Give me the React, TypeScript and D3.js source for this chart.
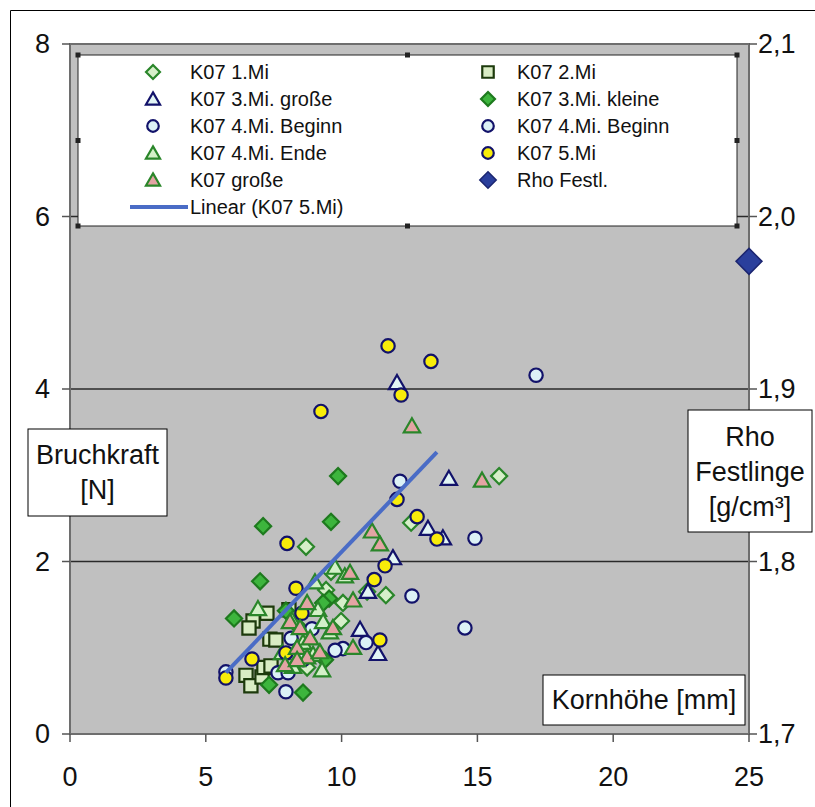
import React from 'react';
import * as d3 from 'd3';

// ---------- data ----------
const xTicks = [0, 5, 10, 15, 20, 25];
const yTicks = [0, 2, 4, 6, 8];
const yGrid = [2, 4, 6];
const yRightTicks = [1.7, 1.8, 1.9, 2.0, 2.1];
const yRightLabels = ['1,7', '1,8', '1,9', '2,0', '2,1'];

type P = [number, number];

const k07Mi1: P[] = [
  [15.80, 2.99], [12.56, 2.45], [8.69, 2.17], [11.63, 1.61], [9.43, 1.67],
  [10.05, 1.52], [9.98, 1.31], [9.61, 1.88], [10.94, 1.65], [8.73, 0.77],
];
const k07Mi2: P[] = [
  [7.25, 1.40], [6.74, 1.31], [6.59, 1.23], [7.36, 1.10], [7.58, 1.09],
  [6.48, 0.68], [6.66, 0.56], [7.07, 0.66], [7.14, 0.77], [7.40, 0.79], [8.06, 1.44],
];
const k07Mi3Gross: P[] = [
  [12.04, 4.07], [13.95, 2.96], [13.18, 2.38], [13.73, 2.27],
  [11.89, 2.04], [10.97, 1.65], [10.68, 1.21], [11.34, 0.93],
];
const k07Mi3Klein: P[] = [
  [9.87, 2.99], [7.11, 2.41], [9.61, 2.46], [6.04, 1.34], [7.00, 1.77], [9.54, 1.57],
  [9.32, 1.52], [7.95, 1.43], [8.36, 1.26], [9.39, 0.86], [7.33, 0.57], [8.58, 0.48],
];
const k07Mi4BeginnA: P[] = [
  [17.16, 4.16], [12.15, 2.93], [14.91, 2.27], [12.59, 1.60], [14.54, 1.23],
  [10.90, 1.06], [10.05, 0.99],
];
const k07Mi4BeginnB: P[] = [
  [8.14, 1.11], [9.76, 0.97], [7.66, 0.71], [8.03, 0.71], [7.95, 0.49],
  [8.91, 1.22], [8.58, 0.86], [5.74, 0.72],
];
const k07Mi4Ende: P[] = [
  [9.76, 1.93], [10.12, 1.83], [9.02, 1.76], [6.92, 1.45], [9.13, 1.44], [9.32, 1.30],
  [9.57, 1.18], [8.58, 1.06], [7.81, 0.94], [8.95, 0.92], [8.21, 0.78], [9.28, 0.74], [8.17, 1.32],
];
const k07Mi5: P[] = [
  [5.74, 0.65], [6.70, 0.87], [7.95, 0.94], [8.32, 1.69], [8.54, 1.40], [7.99, 2.21],
  [9.24, 3.74], [11.41, 1.09], [11.20, 1.79], [11.60, 1.95], [12.04, 2.72], [12.78, 2.52],
  [13.51, 2.26], [12.19, 3.93], [11.71, 4.50], [13.29, 4.32],
];
const k07Gross: P[] = [
  [12.59, 3.57], [15.17, 2.94], [11.12, 2.35], [11.41, 2.20], [10.31, 1.87], [10.42, 1.55],
  [8.73, 1.52], [8.10, 1.30], [8.47, 1.23], [8.84, 1.11], [8.36, 1.00], [8.73, 0.89],
  [7.92, 0.80], [9.20, 0.95], [9.68, 1.23], [10.42, 1.00], [8.36, 0.86],
];
const rhoFestl: P[] = [[25, 1.974]];

// Excel linear trendline of K07 5.Mi (coefficients as displayed)
const trendSlope = 0.329;
const trendIntercept = -1.178;

// ---------- layout ----------
const W = 815;
const H = 807;
const PL = 70, PR = 749, PT = 44, PB = 734;
const FONT = '"Liberation Sans", Arial, sans-serif';

const x = d3.scaleLinear().domain([0, 25]).range([PL, PR]);
const y = d3.scaleLinear().domain([0, 8]).range([PB, PT]);
const yR = d3.scaleLinear().domain([1.7, 2.1]).range([PB, PT]);

type Style = { shape: d3.SymbolType; size: number; fill: string; stroke: string; sw: number };

const NAVY = '#12126a';
const GREEN = '#2a862a';

const sDiamondPale: Style = { shape: d3.symbolDiamond2, size: 165, fill: '#d6efc9', stroke: GREEN, sw: 2.2 };
const sSquare: Style = { shape: d3.symbolSquare, size: 175, fill: '#d9ecc4', stroke: '#1d3a0c', sw: 2.2 };
const sTriCyan: Style = { shape: d3.symbolTriangle, size: 115, fill: '#e2f5f5', stroke: NAVY, sw: 2.2 };
const sDiamondGreen: Style = { shape: d3.symbolDiamond2, size: 165, fill: '#3db53d', stroke: '#1e7a1e', sw: 2.2 };
const sCircleCyan: Style = { shape: d3.symbolCircle, size: 140, fill: '#dcf1f6', stroke: NAVY, sw: 2.2 };
const sTriGreen: Style = { shape: d3.symbolTriangle, size: 115, fill: '#d3f0c8', stroke: GREEN, sw: 2.2 };
const sCircleYellow: Style = { shape: d3.symbolCircle, size: 140, fill: '#f8ec0a', stroke: NAVY, sw: 2.2 };
const sTriPink: Style = { shape: d3.symbolTriangle, size: 115, fill: '#e3a4a4', stroke: GREEN, sw: 2.2 };
const sRho: Style = { shape: d3.symbolDiamond2, size: 430, fill: '#2a3f9c', stroke: '#1b2570', sw: 1.5 };

const series: { name: string; data: P[]; style: Style; right?: boolean }[] = [
  { name: 'K07 1.Mi', data: k07Mi1, style: sDiamondPale },
  { name: 'K07 2.Mi', data: k07Mi2, style: sSquare },
  { name: 'K07 3.Mi. große', data: k07Mi3Gross, style: sTriCyan },
  { name: 'K07 3.Mi. kleine', data: k07Mi3Klein, style: sDiamondGreen },
  { name: 'K07 4.Mi. Beginn', data: k07Mi4BeginnA, style: sCircleCyan },
  { name: 'K07 4.Mi. Beginn', data: k07Mi4BeginnB, style: sCircleCyan },
  { name: 'K07 4.Mi. Ende', data: k07Mi4Ende, style: sTriGreen },
  { name: 'K07 5.Mi', data: k07Mi5, style: sCircleYellow },
  { name: 'K07 große', data: k07Gross, style: sTriPink },
  { name: 'Rho Festl.', data: rhoFestl, style: sRho, right: true },
];

function Marker({ cx, cy, st, scale = 1 }: { cx: number; cy: number; st: Style; scale?: number }) {
  const dy = st.shape === d3.symbolTriangle ? 1.5 : 0;
  const p = d3.symbol().type(st.shape).size(st.size * scale)() as string;
  return (
    <path d={p} transform={`translate(${cx},${cy + dy})`} fill={st.fill} stroke={st.stroke} strokeWidth={st.sw} />
  );
}

function TitleBox({ x0, y0, w, h, lines, cy0, dy }: { x0: number; y0: number; w: number; h: number; lines: string[]; cy0: number; dy: number }) {
  return (
    <g>
      <rect x={x0} y={y0} width={w} height={h} fill="#fff" stroke="#000" strokeWidth={1} />
      {lines.map((t, i) => (
        <text key={i} x={x0 + w / 2} y={cy0 + i * dy} textAnchor="middle" dominantBaseline="central"
          fontFamily={FONT} fontSize={27} fill="#111">{t}</text>
      ))}
    </g>
  );
}

export default function App() {
  const x5 = d3.extent(k07Mi5, (d) => d[0]) as [number, number];
  const trendPts: P[] = [x5[0], x5[1]].map((v) => [v, trendSlope * v + trendIntercept]);
  const line = d3.line<P>().x((d) => x(d[0])).y((d) => y(d[1]));

  // legend
  const LX = 78, LY = 55, LW = 659, LH = 171;
  const rowY = (i: number) => 72 + i * 27;
  const leftCol = [0, 2, 4, 6, 8];
  const rightCol = [1, 3, 5, 7, 9];
  const handles: P[] = [
    [LX, LY], [LX + LW / 2, LY], [LX + LW, LY],
    [LX, LY + LH / 2], [LX + LW, LY + LH / 2],
    [LX, LY + LH], [LX + LW / 2, LY + LH], [LX + LW, LY + LH],
  ];

  return (
    <svg width={W} height={H} style={{ position: 'absolute', left: 0, top: 0, background: '#fff' }}>
      <rect x={0} y={0} width={W} height={H} fill="#fff" />
      {/* chart area frame */}
      <line x1={10.5} y1={10.5} x2={W} y2={10.5} stroke="#000" strokeWidth={1} />
      <line x1={10.5} y1={10.5} x2={10.5} y2={H} stroke="#000" strokeWidth={1} />

      {/* plot area */}
      <rect x={PL} y={PT} width={PR - PL} height={PB - PT} fill="#c0c0c0" />
      {yGrid.map((v) => (
        <line key={v} x1={PL} x2={PR} y1={y(v)} y2={y(v)} stroke="#2a2a2a" strokeWidth={1.5} />
      ))}
      <rect x={PL} y={PT} width={PR - PL} height={PB - PT} fill="none" stroke="#6e6e6e" strokeWidth={2} />

      {/* ticks */}
      {yTicks.map((v) => (
        <g key={'yl' + v}>
          <line x1={PL - 8} x2={PL} y1={y(v)} y2={y(v)} stroke="#555" strokeWidth={1.5} />
          <text x={50} y={y(v)} textAnchor="end" dominantBaseline="central" fontFamily={FONT} fontSize={27} fill="#111">{v}</text>
        </g>
      ))}
      {yRightTicks.map((v, i) => (
        <g key={'yr' + v}>
          <line x1={PR} x2={PR + 8} y1={yR(v)} y2={yR(v)} stroke="#555" strokeWidth={1.5} />
          <text x={758} y={yR(v)} textAnchor="start" dominantBaseline="central" fontFamily={FONT} fontSize={27} fill="#111">{yRightLabels[i]}</text>
        </g>
      ))}
      {xTicks.map((v) => (
        <g key={'x' + v}>
          <line x1={x(v)} x2={x(v)} y1={PB} y2={PB + 8} stroke="#555" strokeWidth={1.5} />
          <text x={x(v)} y={777} textAnchor="middle" dominantBaseline="central" fontFamily={FONT} fontSize={27} fill="#111">{v}</text>
        </g>
      ))}

      {/* markers */}
      {series.map((s, si) => (
        <g key={si}>
          {s.data.map((d, i) => (
            <Marker key={i} cx={x(d[0])} cy={s.right ? yR(d[1]) : y(d[1])} st={s.style} />
          ))}
        </g>
      ))}

      {/* trend line */}
      <path d={line(trendPts) as string} fill="none" stroke="#4a6cc6" strokeWidth={4} />

      {/* legend */}
      <rect x={LX} y={LY} width={LW} height={LH} fill="#fff" stroke="#222" strokeWidth={1} />
      {handles.map((h, i) => (
        <rect key={i} x={h[0] - 2.5} y={h[1] - 2.5} width={5} height={5} fill="#222" />
      ))}
      {leftCol.map((si, r) => (
        <g key={'ll' + si}>
          <Marker cx={153} cy={rowY(r)} st={series[si].style} scale={0.75} />
          <text x={190} y={rowY(r)} dominantBaseline="central" fontFamily={FONT} fontSize={20} fill="#111">{series[si].name}</text>
        </g>
      ))}
      {rightCol.map((si, r) => (
        <g key={'lr' + si}>
          <Marker cx={488} cy={rowY(r)} st={series[si].style} scale={si === 9 ? 0.4 : 0.75} />
          <text x={517} y={rowY(r)} dominantBaseline="central" fontFamily={FONT} fontSize={20} fill="#111">{series[si].name}</text>
        </g>
      ))}
      <line x1={130} x2={188} y1={rowY(5)} y2={rowY(5)} stroke="#4a6cc6" strokeWidth={4} />
      <text x={190} y={rowY(5)} dominantBaseline="central" fontFamily={FONT} fontSize={20} fill="#111">Linear (K07 5.Mi)</text>

      {/* axis title boxes */}
      <TitleBox x0={28} y0={429} w={139} h={87} lines={['Bruchkraft', '[N]']} cy0={455} dy={35} />
      <TitleBox x0={688} y0={410} w={124} h={122} lines={['Rho', 'Festlinge', '[g/cm³]']} cy0={437} dy={35} />
      <TitleBox x0={543} y0={675} w={202} h={50} lines={['Kornhöhe [mm]']} cy0={700} dy={0} />
    </svg>
  );
}
